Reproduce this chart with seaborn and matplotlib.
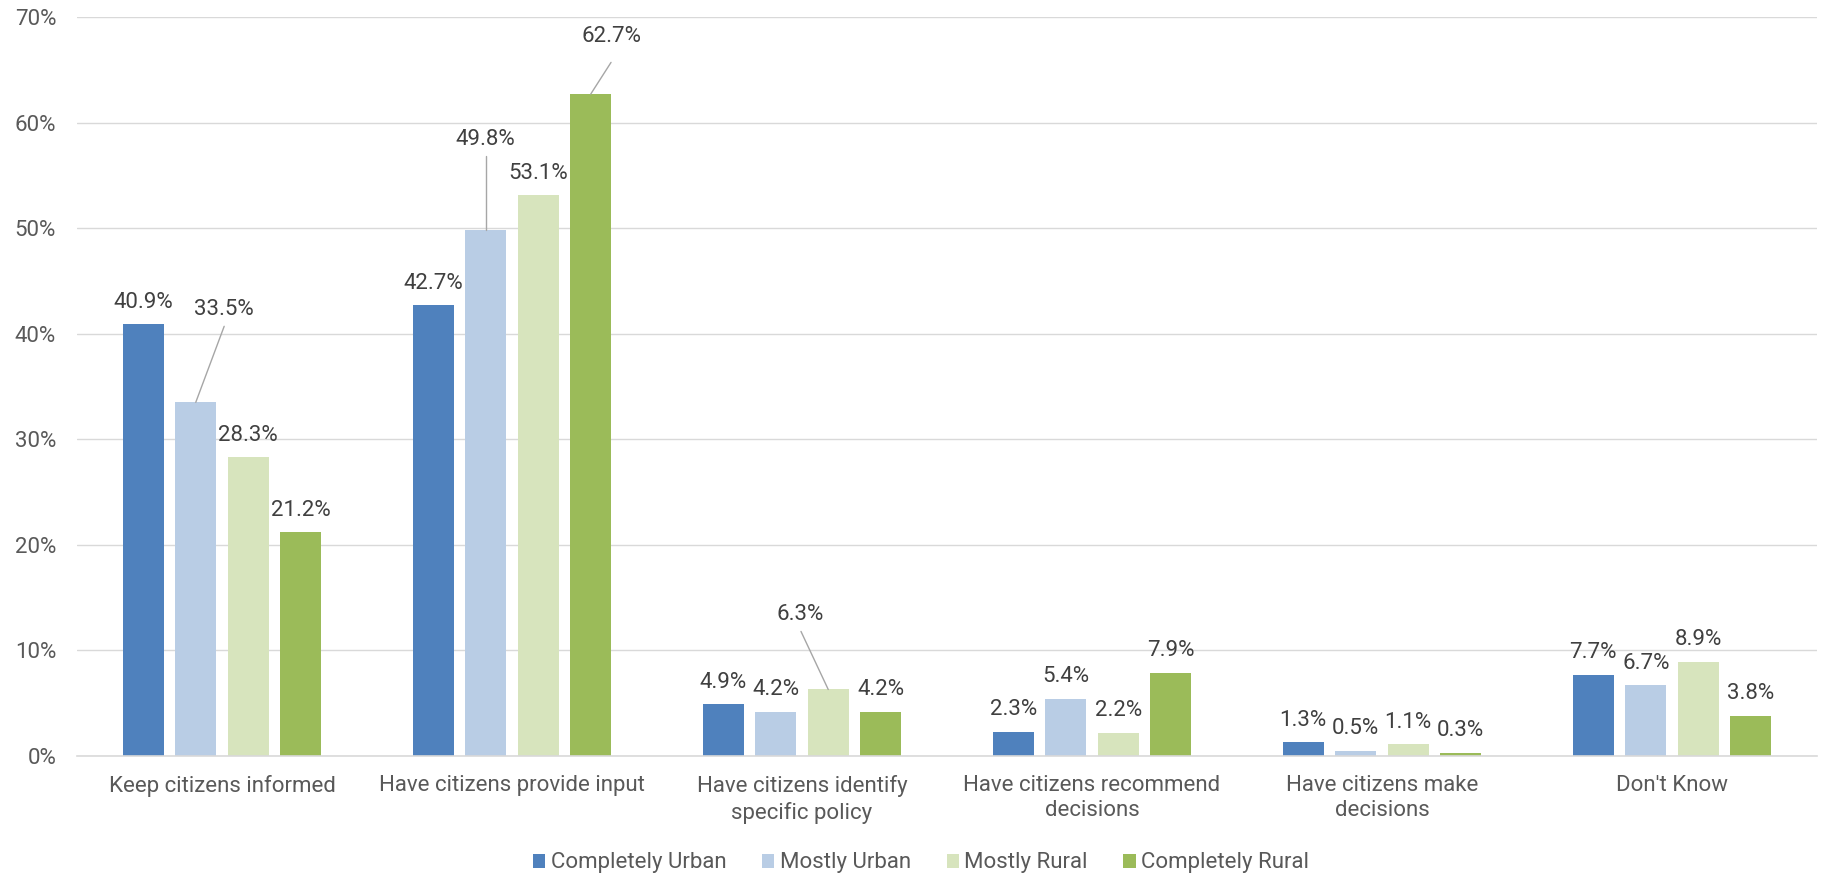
import matplotlib
matplotlib.use("Agg")
import matplotlib.pyplot as plt
from matplotlib.patches import Patch
import seaborn as sns
import pandas as pd

categories = ["Keep citizens informed", "Have citizens provide input",
              "Have citizens identify specific policy", "Have citizens recommend decisions",
              "Have citizens make decisions", "Don't Know"]
tick_labels = ["Keep citizens informed", "Have citizens provide input",
               "Have citizens identify\nspecific policy", "Have citizens recommend\ndecisions",
               "Have citizens make\ndecisions", "Don't Know"]
groups = ["Completely Urban", "Mostly Urban", "Mostly Rural", "Completely Rural"]
completely_urban = [40.9, 42.7, 4.9, 2.3, 1.3, 7.7]
mostly_urban = [33.5, 49.8, 4.2, 5.4, 0.5, 6.7]
mostly_rural = [28.3, 53.1, 6.3, 2.2, 1.1, 8.9]
completely_rural = [21.2, 62.7, 4.2, 7.9, 0.3, 3.8]
y_ticks = [0, 10, 20, 30, 40, 50, 60, 70]

colors = ["#4F81BD", "#B9CDE5", "#D7E4BD", "#9BBB59"]

series = [completely_urban, mostly_urban, mostly_rural, completely_rural]
rows = []
for g, vals in zip(groups, series):
    for c, v in zip(categories, vals):
        rows.append({"category": c, "group": g, "value": v})
df = pd.DataFrame(rows)

sns.set_style("white")
plt.rcParams["font.family"] = ["Roboto", "DejaVu Sans"]

W, H = 1824, 877
fig = plt.figure(figsize=(W / 100, H / 100), dpi=100)
ax = fig.add_axes([77 / W, 121 / H, (1817 - 77) / W, (756 - 17) / H])

sns.barplot(data=df, x="category", y="value", hue="group", order=categories,
            hue_order=groups, palette=colors, saturation=1, width=0.724, gap=0.21,
            linewidth=0, legend=False, ax=ax)

ax.set_xlim(-0.5, 5.5)
ax.set_ylim(0, 70)
ax.set_yticks(y_ticks)
ax.set_yticklabels([f"{t}%" for t in y_ticks])
ax.set_xticks(range(len(categories)))
ax.set_xticklabels(tick_labels, linespacing=1.25)
ax.set_xlabel("")
ax.set_ylabel("")
ax.tick_params(axis="y", length=0, pad=15, labelsize=16, labelcolor="#595959")
ax.tick_params(axis="x", length=0, pad=14, labelsize=16, labelcolor="#595959")
ax.yaxis.grid(True, color="#D9D9D9", linewidth=1.0)
ax.set_axisbelow(True)
for s in ["top", "right", "left"]:
    ax.spines[s].set_visible(False)
ax.spines["bottom"].set_color("#D9D9D9")
ax.spines["bottom"].set_linewidth(1.2)

# label placement: (text dx rel. bar, text y, line end dx, line end y)
special = {
    (0, 1): (0.098, 42.3, 0.098, 40.7),
    (1, 1): (0.0, 58.4, 0.0, 56.8),
    (1, 3): (0.07, 68.2, 0.07, 65.7),
    (2, 2): (-0.097, 13.4, -0.094, 11.8),
}

for hi, cont in enumerate(ax.containers):
    for ci, bar in enumerate(cont):
        xc = bar.get_x() + bar.get_width() / 2
        h = bar.get_height()
        txt = f"{h:.1f}%"
        if (ci, hi) in special:
            tx, ty, lx, ly = special[(ci, hi)]
            ax.plot([xc, xc + lx], [h, ly], color="#A6A6A6", lw=1.0, zorder=3)
            ax.text(xc + tx, ty, txt, ha="center", va="center", fontsize=16,
                    color="#404040", zorder=4)
        else:
            ax.annotate(txt, (xc, h), xytext=(0, 12), textcoords="offset points",
                        ha="center", va="baseline", fontsize=16, color="#404040")

handles = [Patch(facecolor=c, edgecolor="none", label=g) for c, g in zip(colors, groups)]
fig.legend(handles=handles, loc="center", bbox_to_anchor=(0.505, 0.016), ncol=4,
           frameon=False, fontsize=16, handlelength=0.55, handleheight=0.6,
           handletextpad=0.25, columnspacing=1.6, labelcolor="#595959")

fig.savefig("out.png", dpi=100)
